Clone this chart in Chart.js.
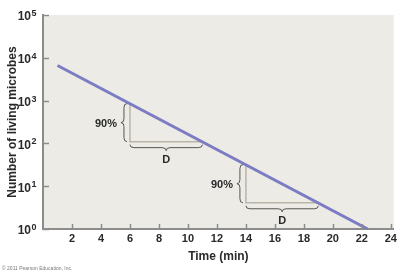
<!DOCTYPE html>
<html>
<head>
<meta charset="utf-8">
<script src="https://cdn.jsdelivr.net/npm/chart.js@4.4.1/dist/chart.umd.min.js"></script>
<style>
  html, body { margin: 0; padding: 0; background: #fff; }
  #wrap { width: 400px; height: 273px; position: relative; }
</style>
</head>
<body>
<div id="wrap"><canvas id="grafico"></canvas></div>
<script>
// data
const minutes = [1, 22.4];
const livingMicrobes = [6600, 1];
const xTicks = [2, 4, 6, 8, 10, 12, 14, 16, 18, 20, 22, 24];
const yExponents = [0, 1, 2, 3, 4, 5];
// the two "90% / D" markers
const spanStart = [6, 14];
const spanEnd = [11, 19];
const spanTop = [850, 32];
const spanBottom = [110, 4.1];
const dropLabel = '90%';
const timeLabel = 'D';

const FONT = '"Liberation Sans", Arial, Helvetica, sans-serif';
const AXIS = '#8c8c8c';
const TEXT = '#2a2a2a';

const series = minutes.map((t, i) => ({ x: t, y: livingMicrobes[i] }));

const spanSets = spanStart.map((s, i) => ({
  data: [
    { x: s, y: spanTop[i] },
    { x: s, y: spanBottom[i] },
    { x: spanEnd[i], y: spanBottom[i] }
  ],
  borderColor: '#bab5a7',
  borderWidth: 1.5,
  pointRadius: 0,
  order: 2
}));

function brace(ctx, ax, ay, bx, by, h) {
  const len = Math.hypot(bx - ax, by - ay);
  const ang = Math.atan2(by - ay, bx - ax);
  const r = Math.min(4, len / 4);
  ctx.save();
  ctx.translate(ax, ay);
  ctx.rotate(ang);
  ctx.beginPath();
  ctx.moveTo(0, 0);
  ctx.quadraticCurveTo(0, h / 2, r, h / 2);
  ctx.lineTo(len / 2 - r, h / 2);
  ctx.quadraticCurveTo(len / 2, h / 2, len / 2, h);
  ctx.quadraticCurveTo(len / 2, h / 2, len / 2 + r, h / 2);
  ctx.lineTo(len - r, h / 2);
  ctx.quadraticCurveTo(len, h / 2, len, 0);
  ctx.stroke();
  ctx.restore();
}

const decor = {
  id: 'decor',
  beforeDraw(chart) {
    const { ctx, chartArea: a } = chart;
    ctx.save();
    ctx.fillStyle = '#ecebe6';
    ctx.fillRect(a.left, a.top, a.right - a.left, a.bottom - a.top);
    ctx.restore();
  },
  afterDraw(chart) {
    const { ctx, chartArea: a } = chart;
    const xs = chart.scales.x, ys = chart.scales.y;
    ctx.save();
    // inner tick marks
    ctx.strokeStyle = AXIS;
    ctx.lineWidth = 1.5;
    xTicks.forEach(v => {
      const px = Math.round(xs.getPixelForValue(v)) + 0.5;
      ctx.beginPath(); ctx.moveTo(px, a.bottom); ctx.lineTo(px, a.bottom - 5); ctx.stroke();
    });
    yExponents.forEach(e => {
      const py = Math.round(ys.getPixelForValue(Math.pow(10, e))) + 0.5;
      ctx.beginPath(); ctx.moveTo(a.left, py); ctx.lineTo(a.left + 6, py); ctx.stroke();
    });
    // y labels 10^n
    ctx.fillStyle = TEXT;
    yExponents.forEach(e => {
      const py = ys.getPixelForValue(Math.pow(10, e));
      ctx.font = 'bold 12px ' + FONT;
      ctx.textAlign = 'right';
      ctx.textBaseline = 'middle';
      ctx.fillText('10', 31, py + 2);
      ctx.font = 'bold 9px ' + FONT;
      ctx.textAlign = 'left';
      ctx.textBaseline = 'alphabetic';
      ctx.fillText(String(e), 31.5, py + 1);
    });
    // braces and their labels
    ctx.strokeStyle = '#555';
    ctx.lineWidth = 1;
    spanStart.forEach((s, i) => {
      const x0 = xs.getPixelForValue(s);
      const x1 = xs.getPixelForValue(spanEnd[i]);
      const yt = ys.getPixelForValue(spanTop[i]);
      const yb = ys.getPixelForValue(spanBottom[i]);
      brace(ctx, x0 - 3, yt, x0 - 3, yb, 6);
      brace(ctx, x0, yb + 3, x1, yb + 3, 6);
      ctx.font = 'bold 11px ' + FONT;
      ctx.textAlign = 'right';
      ctx.textBaseline = 'middle';
      ctx.fillText(dropLabel, x0 - 13, (yt + yb) / 2 + 1);
      ctx.textAlign = 'center';
      ctx.textBaseline = 'top';
      ctx.fillText(timeLabel, (x0 + x1) / 2, yb + 13);
    });
    // credit line
    ctx.font = '5px ' + FONT;
    ctx.fillStyle = '#777';
    ctx.textAlign = 'left';
    ctx.textBaseline = 'alphabetic';
    ctx.fillText('\u00a9 2011 Pearson Education, Inc.', 2, 270);
    ctx.restore();
  }
};

new Chart(document.getElementById('grafico'), {
  type: 'line',
  data: {
    datasets: [{
      data: series,
      borderColor: '#7c7cc3',
      borderWidth: 3,
      pointRadius: 0,
      order: 1
    }].concat(spanSets)
  },
  options: {
    responsive: true,
    maintainAspectRatio: false,
    animation: false,
    events: [],
    layout: { padding: { top: 15, right: 5, left: 0, bottom: 0 } },
    plugins: { legend: { display: false }, tooltip: { enabled: false } },
    scales: {
      x: {
        type: 'linear',
        min: 0,
        max: 24.2,
        afterBuildTicks: s => { s.ticks = xTicks.map(v => ({ value: v })); },
        afterFit: s => { s.height = 44; },
        grid: { display: false, drawTicks: false },
        border: { display: true, color: AXIS, width: 2 },
        ticks: { padding: 3, color: TEXT, font: { family: FONT, size: 11, weight: 'bold' }, maxRotation: 0 },
        title: { display: true, text: 'Time (min)', color: TEXT, font: { family: FONT, size: 12, weight: 'bold' }, padding: { top: 4, bottom: 9 } }
      },
      y: {
        type: 'logarithmic',
        min: 1,
        max: 100000,
        afterBuildTicks: s => { s.ticks = yExponents.map(e => ({ value: Math.pow(10, e) })); },
        afterFit: s => { s.width = 43; },
        grid: { display: false, drawTicks: false },
        border: { display: true, color: AXIS, width: 2 },
        ticks: { display: false },
        title: { display: true, text: 'Number of living microbes', color: TEXT, font: { family: FONT, size: 12, weight: 'bold' }, padding: { top: 5, bottom: 0 } }
      }
    }
  },
  plugins: [decor]
});
</script>
</body>
</html>
